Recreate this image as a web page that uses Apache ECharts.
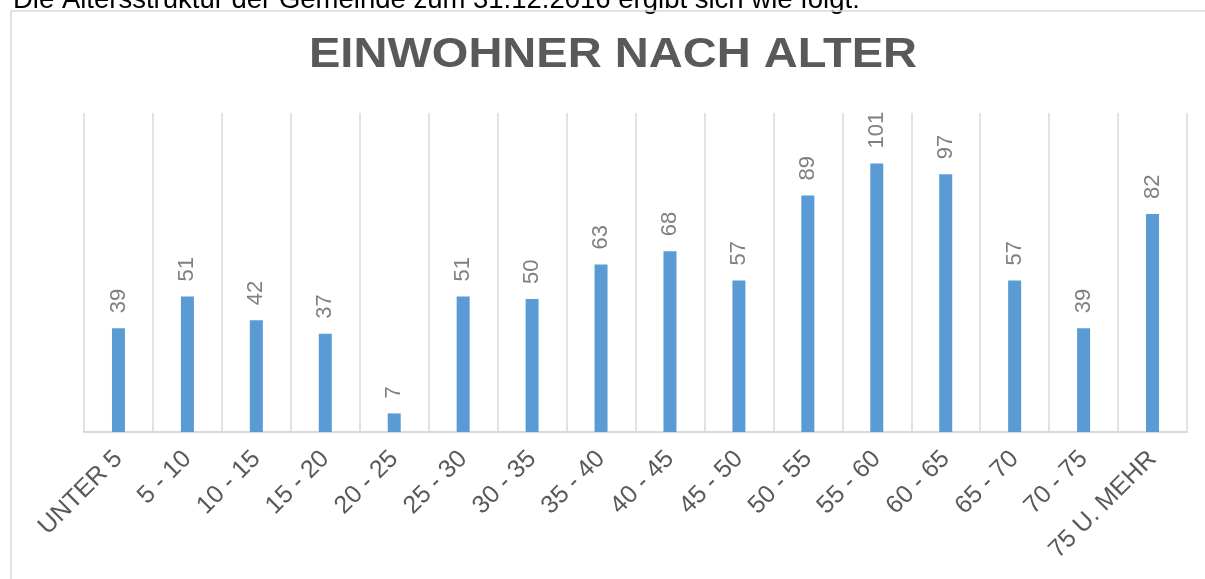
<!DOCTYPE html>
<html>
<head>
<meta charset="utf-8">
<script src="https://cdn.jsdelivr.net/npm/echarts@6/dist/echarts.min.js"></script>
<style>
html,body{margin:0;padding:0;background:#fff;}
#c{width:1205px;height:579px;}
</style>
</head>
<body>
<div id="c"></div>
<script>
const introText = 'Die Altersstruktur der Gemeinde zum 31.12.2016 ergibt sich wie folgt:';
const chartTitle = 'EINWOHNER NACH ALTER';
const categories = ['UNTER 5','5 - 10','10 - 15','15 - 20','20 - 25','25 - 30','30 - 35','35 - 40','40 - 45','45 - 50','50 - 55','55 - 60','60 - 65','65 - 70','70 - 75','75 U. MEHR'];
const residents = [39,51,42,37,7,51,50,63,68,57,89,101,97,57,39,82];
const yMax = 120;

const FONT = '"Liberation Sans", Arial, sans-serif';
const chart = echarts.init(document.getElementById('c'), null, {renderer:'canvas'});
chart.setOption({
  animation:false,
  backgroundColor:'#ffffff',
  graphic:[
    {type:'rect', shape:{x:11, y:11, width:1400, height:800}, style:{fill:'none', stroke:'#d9d9d9', lineWidth:1.5}, z:-1},
    {type:'text', x:13, y:14, z:-2, style:{text:introText, font:'27.5px ' + FONT, fill:'#000000', textAlign:'left', textVerticalAlign:'bottom'}},
    {type:'text', x:613, y:55, scaleX:1.12, style:{text:chartTitle, font:'bold 42px ' + FONT, fill:'#595959', textAlign:'center', textVerticalAlign:'middle'}}
  ],
  grid:{left:84, right:18, top:113, bottom:147, containLabel:false},
  xAxis:{
    type:'category',
    data:categories,
    boundaryGap:true,
    axisLine:{show:true, lineStyle:{color:'#d9d9d9', width:2}},
    axisTick:{show:false},
    splitLine:{show:true, lineStyle:{color:'#d9d9d9', width:1.5}},
    axisLabel:{interval:0, rotate:45, margin:23, color:'#595959', fontSize:25, fontFamily:FONT}
  },
  yAxis:{
    type:'value', min:0, max:yMax, interval:20,
    show:false,
    splitLine:{show:false}
  },
  series:[{
    type:'bar',
    data:residents,
    barWidth:13,
    itemStyle:{color:'#5b9bd5'},
    label:{show:true, position:'top', rotate:90, align:'left', verticalAlign:'middle', distance:15, color:'#808080', fontSize:22, fontFamily:FONT}
  }]
});
</script>
</body>
</html>
